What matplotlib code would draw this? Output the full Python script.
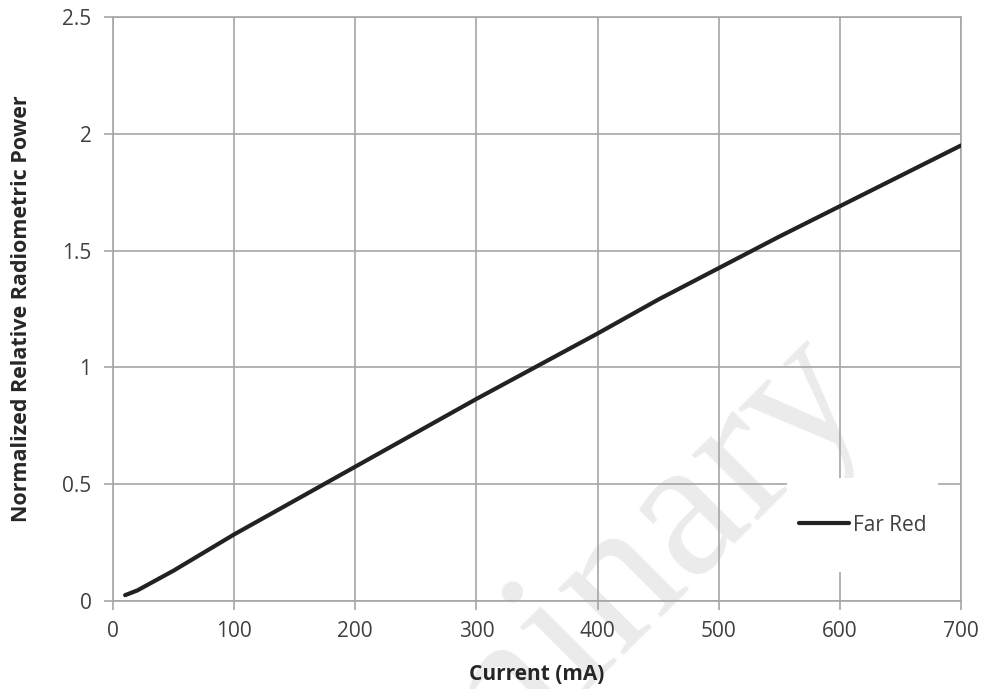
import matplotlib
matplotlib.use("Agg")
import matplotlib.pyplot as plt
from matplotlib.patches import Rectangle

# Data
current_ma = [10, 20, 50, 100, 150, 200, 250, 300, 350, 400, 450, 500, 550, 600, 650, 700]
rel_power = [0.025, 0.045, 0.13, 0.285, 0.43, 0.575, 0.72, 0.865, 1.005, 1.145, 1.29, 1.425, 1.56, 1.69, 1.82, 1.95]
series_name = "Far Red"
x_ticks = [0, 100, 200, 300, 400, 500, 600, 700]
y_ticks = [0, 0.5, 1, 1.5, 2, 2.5]
y_ticklabels = ["0", "0.5", "1", "1.5", "2", "2.5"]

plt.rcParams['font.family'] = ['Open Sans', 'DejaVu Sans']

fig = plt.figure(figsize=(9.85, 6.89), dpi=100)
fig.patch.set_facecolor('white')
ax = fig.add_axes([113/985, 1 - 601/689, 848/985, 584/689])
ax.set_facecolor('none')

grid_c = '#a6a6a6'
ax.set_xlim(0, 700)
ax.set_ylim(0, 2.5)
ax.set_xticks(x_ticks)
ax.set_yticks(y_ticks)
ax.set_yticklabels(y_ticklabels)
ax.grid(True, color=grid_c, linewidth=1.2, zorder=1)
for s in ax.spines.values():
    s.set_color(grid_c)
    s.set_linewidth(1.2)
ax.tick_params(axis='both', direction='out', length=6.5, width=1.2, color=grid_c,
               labelsize=15, labelcolor='#404040')
ax.tick_params(axis='y', pad=9)
ax.tick_params(axis='x', pad=8)

# legend background (white box covering gridlines)
ax.add_patch(Rectangle((0.795, 0.05), 0.178, 0.161, transform=ax.transAxes,
                       facecolor='white', edgecolor='none', zorder=2))

ax.plot(current_ma, rel_power, color='#222222', linewidth=3, solid_capstyle='round',
        label=series_name, zorder=3)

leg = ax.legend(loc='center left', bbox_to_anchor=(0.797, 0.13), frameon=False,
                fontsize=15, handlelength=2.4, handletextpad=0.2, borderpad=0.0)
for t in leg.get_texts():
    t.set_color('#404040')

ax.set_xlabel("Current (mA)", fontsize=15, fontweight='bold', color='#262626', labelpad=16)
ax.set_ylabel("Normalized Relative Radiometric Power", fontsize=15.5, fontweight='bold',
              color='#262626', labelpad=22)

# watermark
fig.text(501/985, 1 - 702/689, "Preliminary", fontsize=145, family=['Liberation Serif', 'DejaVu Serif'],
         color='#ebebeb', rotation=45, rotation_mode='anchor', ha='center', va='center', zorder=-1)

fig.savefig("out.png", dpi=100, facecolor='white')
